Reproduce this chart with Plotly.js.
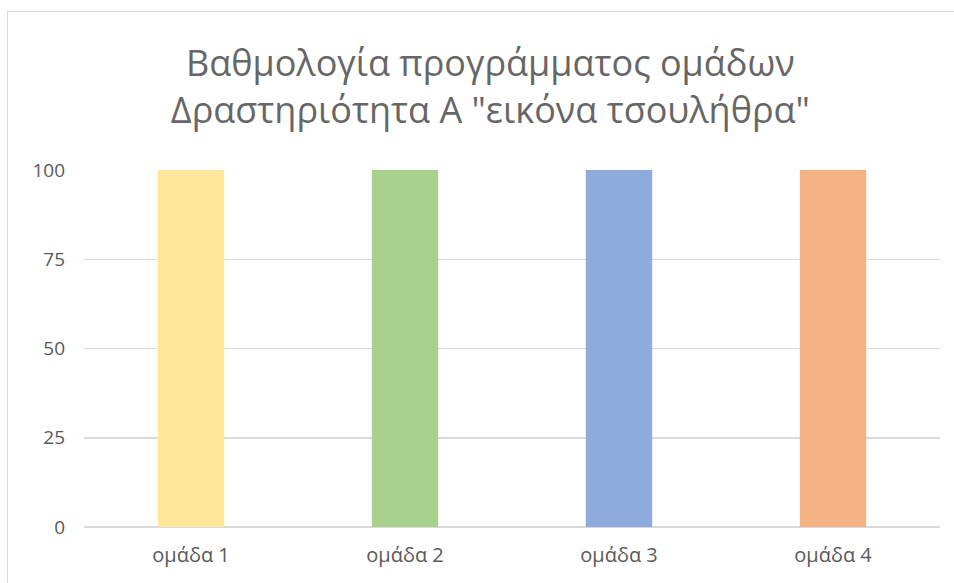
<!DOCTYPE html>
<html><head><meta charset="utf-8">
<script src="https://cdn.plot.ly/plotly-3.0.1.min.js"></script>
<style>
html,body{margin:0;padding:0;background:#fff;}
#wrap{position:relative;width:954px;height:583px;overflow:hidden;}
#chart{width:954px;height:583px;}
#frame{position:absolute;left:7px;top:11px;width:1000px;height:1000px;border-left:1.5px solid #d9d9d9;border-top:1.5px solid #d9d9d9;pointer-events:none;}
</style></head>
<body><div id="wrap"><div id="chart"></div><div id="frame"></div></div>
<script>
const categories = ["ομάδα 1", "ομάδα 2", "ομάδα 3", "ομάδα 4"];
const scores = [100, 100, 100, 100];
const barColors = ["#FFE699", "#A9D18E", "#8FAADC", "#F4B183"];
const yTicks = [0, 25, 50, 75, 100];
const titleText = 'Βαθμολογία προγράμματος ομάδων<br>Δραστηριότητα Α "εικόνα τσουλήθρα"';

const font = "'Open Sans', 'Noto Sans', sans-serif";
Plotly.newPlot('chart', [{
  type: 'bar', x: categories, y: scores,
  marker: {color: barColors}, hoverinfo: 'none'
}], {
  width: 954, height: 583,
  margin: {l: 84, r: 14, t: 170, b: 56},
  paper_bgcolor: '#fff', plot_bgcolor: '#fff',
  bargap: 0.69,
  showlegend: false,
  title: {text: titleText, font: {family: font, size: 36, color: '#666666'},
          x: 0.514, xref: 'container', xanchor: 'center', y: 0.87, yref: 'container', yanchor: 'top'},
  xaxis: {tickfont: {family: font, size: 20, color: '#595959'}, showgrid: false, showline: false,
          ticks: '', ticklabelstandoff: 14, zeroline: false},
  yaxis: {range: [0, 100], tickvals: yTicks, ticktext: yTicks.map(String),
          tickfont: {family: font, size: 19, color: '#595959'},
          showgrid: true, gridcolor: '#d9d9d9', gridwidth: 1.5, zeroline: true, zerolinecolor: '#d9d9d9', zerolinewidth: 1.5,
          showline: false, ticks: '', ticklabelstandoff: 18}
}, {displayModeBar: false, staticPlot: true});
</script></body></html>
